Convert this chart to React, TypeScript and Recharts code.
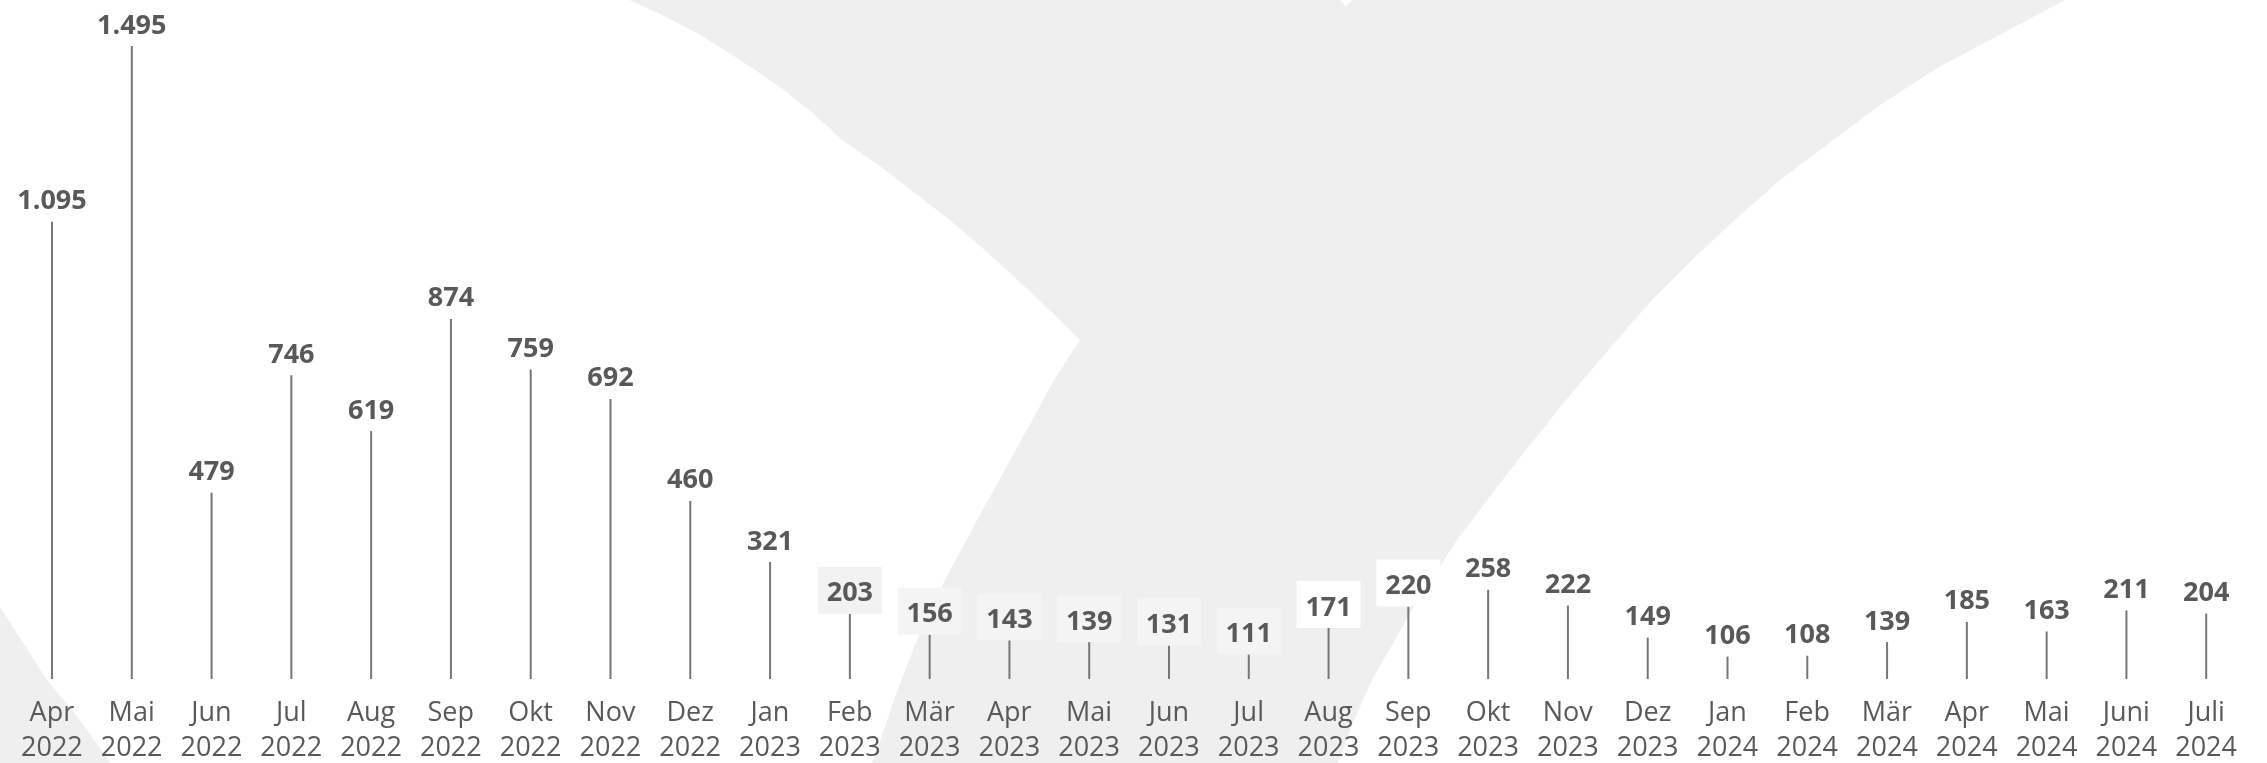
import React from 'react';
import { BarChart, Bar, XAxis, YAxis, LabelList } from 'recharts';

const months = [
  'Apr', 'Mai', 'Jun', 'Jul', 'Aug', 'Sep', 'Okt', 'Nov', 'Dez',
  'Jan', 'Feb', 'Mär', 'Apr', 'Mai', 'Jun', 'Jul', 'Aug', 'Sep', 'Okt', 'Nov', 'Dez',
  'Jan', 'Feb', 'Mär', 'Apr', 'Mai', 'Juni', 'Juli'
];
const years = [
  '2022', '2022', '2022', '2022', '2022', '2022', '2022', '2022', '2022',
  '2023', '2023', '2023', '2023', '2023', '2023', '2023', '2023', '2023', '2023', '2023', '2023',
  '2024', '2024', '2024', '2024', '2024', '2024', '2024'
];
const counts = [
  1095, 1495, 479, 746, 619, 874, 759, 692, 460,
  321, 203, 156, 143, 139, 131, 111, 171, 220, 258, 222, 149,
  106, 108, 139, 185, 163, 211, 204
];

// label box fills seen in the source (only Feb–Sep 2023 are visibly boxed)
const boxFills: Record<number, string> = {
  10: '#f2f2f2', 11: '#f4f4f4', 12: '#f4f4f4', 13: '#f4f4f4', 14: '#f4f4f4', 15: '#f4f4f4',
  16: '#ffffff', 17: '#ffffff'
};

const data = counts.map((v, i) => ({ key: `${months[i]} ${years[i]}`, value: v }));

const TEXT = '#595959';
const FONT = '"Open Sans", sans-serif';

const fmt = (v: number) => String(v).replace(/\B(?=(\d{3})+(?!\d))/g, '.');

function ValueLabel(props: any) {
  const { x, y, width, value, index } = props;
  const cx = x + width / 2;
  const txt = fmt(value);
  const boxW = txt.length * 16 + 16;
  const fill = boxFills[index];
  return (
    <g>
      {fill && <rect x={cx - boxW / 2} y={y - 47} width={boxW} height={47} fill={fill} />}
      <text
        x={cx}
        y={y - 23}
        textAnchor="middle"
        dominantBaseline="central"
        fill={TEXT}
        fontFamily={FONT}
        fontWeight={700}
        fontSize={27}
      >
        {txt}
      </text>
    </g>
  );
}

function MonthTick(props: any) {
  const { x, y, payload } = props;
  const i = payload.index;
  return (
    <g>
      <text x={x} y={y + 31} textAnchor="middle" dominantBaseline="central" fill={TEXT} fontFamily={FONT} fontSize={27}>
        {months[i]}
      </text>
      <text x={x} y={y + 66} textAnchor="middle" dominantBaseline="central" fill={TEXT} fontFamily={FONT} fontSize={27}>
        {years[i]}
      </text>
    </g>
  );
}

// light grey logo shapes behind the chart (page coordinates)
function Watermark() {
  return (
    <svg width={2267} height={763} style={{ position: 'fixed', left: 0, top: 0 }}>
      <path
        fill="#efefef"
        d="M629,0 L1340,0 L1346,7 L1352,0 L2065,0
           L1939,67 L1880,105 L1824,147 L1780,180 L1738,217 L1695,257 L1652,300
           L1610,348 L1566,400 L1510,470 L1457,540 L1415,605 L1373,678 L1354,720 L1338,763
           L872,763 L878,747 L895,697 L914,647 L945,580 L981,513 L1018,446 L1054,380 L1080,340
           L1035,296 L988,253 L952,222 L915,193 L880,166 L842,140 L815,115 L784,90
           L740,60 L697,33 L660,14 Z"
      />
      <path fill="#efefef" d="M0,607 L47,680 L80,720 L110,763 L0,763 Z" />
    </svg>
  );
}

export default function App() {
  return (
    <div style={{ position: 'relative', width: 2251, height: 755 }}>
      <Watermark />
      <div style={{ position: 'absolute', left: 0, top: 0 }}>
        <BarChart
          width={2251}
          height={755}
          data={data}
          margin={{ top: 38, right: 13, left: 4, bottom: 0 }}
        >
          <XAxis
            dataKey="key"
            interval={0}
            axisLine={false}
            tickLine={false}
            tickSize={0}
            tickMargin={0}
            height={84}
            tick={<MonthTick />}
          />
          <YAxis hide domain={[55, 1495]} allowDataOverflow />
          <Bar dataKey="value" fill="#767676" barSize={2} isAnimationActive={false}>
            <LabelList dataKey="value" content={<ValueLabel />} />
          </Bar>
        </BarChart>
      </div>
    </div>
  );
}
